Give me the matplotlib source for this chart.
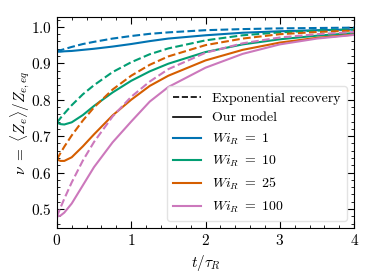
import matplotlib
matplotlib.use('Agg')
import matplotlib.pyplot as plt

# estilo tipo LaTeX
plt.rcParams['font.family'] = 'serif'
plt.rcParams['font.serif'] = ['cmr10', 'DejaVu Serif']
plt.rcParams['mathtext.fontset'] = 'cm'
plt.rcParams['axes.formatter.use_mathtext'] = True
plt.rcParams['axes.unicode_minus'] = False
plt.rcParams['font.size'] = 10
plt.rcParams['xtick.labelsize'] = 11
plt.rcParams['ytick.labelsize'] = 11
plt.rcParams['xtick.direction'] = 'in'
plt.rcParams['ytick.direction'] = 'in'
plt.rcParams['xtick.top'] = True
plt.rcParams['ytick.right'] = True
plt.rcParams['xtick.major.size'] = 5
plt.rcParams['ytick.major.size'] = 5
plt.rcParams['xtick.minor.size'] = 2.5
plt.rcParams['ytick.minor.size'] = 2.5

# datos
t = [0, 0.05, 0.1, 0.2, 0.35, 0.5, 0.75, 1.0, 1.25, 1.5, 2.0, 2.5, 3.0, 3.5, 4.0]

wi_labels = [r'$Wi_R\ =\ 1$', r'$Wi_R\ =\ 10$', r'$Wi_R\ =\ 25$', r'$Wi_R\ =\ 100$']
colors = ['#0173B2', '#029E73', '#D55E00', '#CC78BC']

# recuperacion exponencial (discontinua)
exp_wi1 = [0.933, 0.936, 0.939, 0.945, 0.953, 0.959, 0.968, 0.975, 0.981, 0.985, 0.991, 0.994, 0.996, 0.997, 0.998]
exp_wi10 = [0.737, 0.750, 0.762, 0.785, 0.815, 0.840, 0.876, 0.903, 0.925, 0.941, 0.963, 0.977, 0.985, 0.990, 0.993]
exp_wi25 = [0.636, 0.654, 0.671, 0.702, 0.743, 0.779, 0.828, 0.866, 0.896, 0.919, 0.950, 0.968, 0.980, 0.986, 0.990]
exp_wi100 = [0.479, 0.504, 0.528, 0.573, 0.633, 0.684, 0.754, 0.808, 0.850, 0.884, 0.929, 0.955, 0.971, 0.980, 0.986]

# nuestro modelo (continua)
mod_wi1 = [0.932, 0.932, 0.933, 0.934, 0.937, 0.940, 0.946, 0.953, 0.961, 0.968, 0.977, 0.984, 0.988, 0.991, 0.993]
mod_wi10 = [0.737, 0.733, 0.732, 0.738, 0.758, 0.783, 0.820, 0.852, 0.878, 0.899, 0.931, 0.952, 0.966, 0.976, 0.983]
mod_wi25 = [0.636, 0.632, 0.632, 0.642, 0.672, 0.705, 0.757, 0.800, 0.838, 0.866, 0.908, 0.937, 0.957, 0.970, 0.979]
mod_wi100 = [0.479, 0.482, 0.490, 0.515, 0.565, 0.615, 0.683, 0.740, 0.795, 0.835, 0.888, 0.926, 0.952, 0.968, 0.978]

exp_curves = [exp_wi1, exp_wi10, exp_wi25, exp_wi100]
mod_curves = [mod_wi1, mod_wi10, mod_wi25, mod_wi100]

fig = plt.figure(figsize=(3.74, 2.8), dpi=100)
ax = fig.add_axes([0.152, 0.186, 0.795, 0.753])

for e, m, c in zip(exp_curves, mod_curves, colors):
    ax.plot(t, e, '--', color=c, lw=1.5)
    ax.plot(t, m, '-', color=c, lw=1.5)

# leyenda
handles = [plt.Line2D([], [], color='k', ls='--', lw=1.2),
           plt.Line2D([], [], color='k', ls='-', lw=1.2)]
labels = ['Exponential recovery', 'Our model']
for c, lab in zip(colors, wi_labels):
    handles.append(plt.Line2D([], [], color=c, lw=1.5))
    labels.append(lab)
leg = ax.legend(handles, labels, loc='lower right', fontsize=10,
                handlelength=2.0, borderpad=0.45, labelspacing=0.5)
leg.get_frame().set_edgecolor('#dddddd')

ax.set_xlim(0, 4)
ax.set_ylim(0.448, 1.027)
ax.set_xticks([0, 1, 2, 3, 4])
ax.set_yticks([0.5, 0.6, 0.7, 0.8, 0.9, 1.0])
ax.minorticks_on()
ax.set_xlabel(r'$t/\tau_R$', fontsize=11)
ax.set_ylabel(r'$\nu\ =\ \langle Z_e \rangle / Z_{e,eq}$', fontsize=11, labelpad=-1)

plt.savefig('out.png', dpi=100)
